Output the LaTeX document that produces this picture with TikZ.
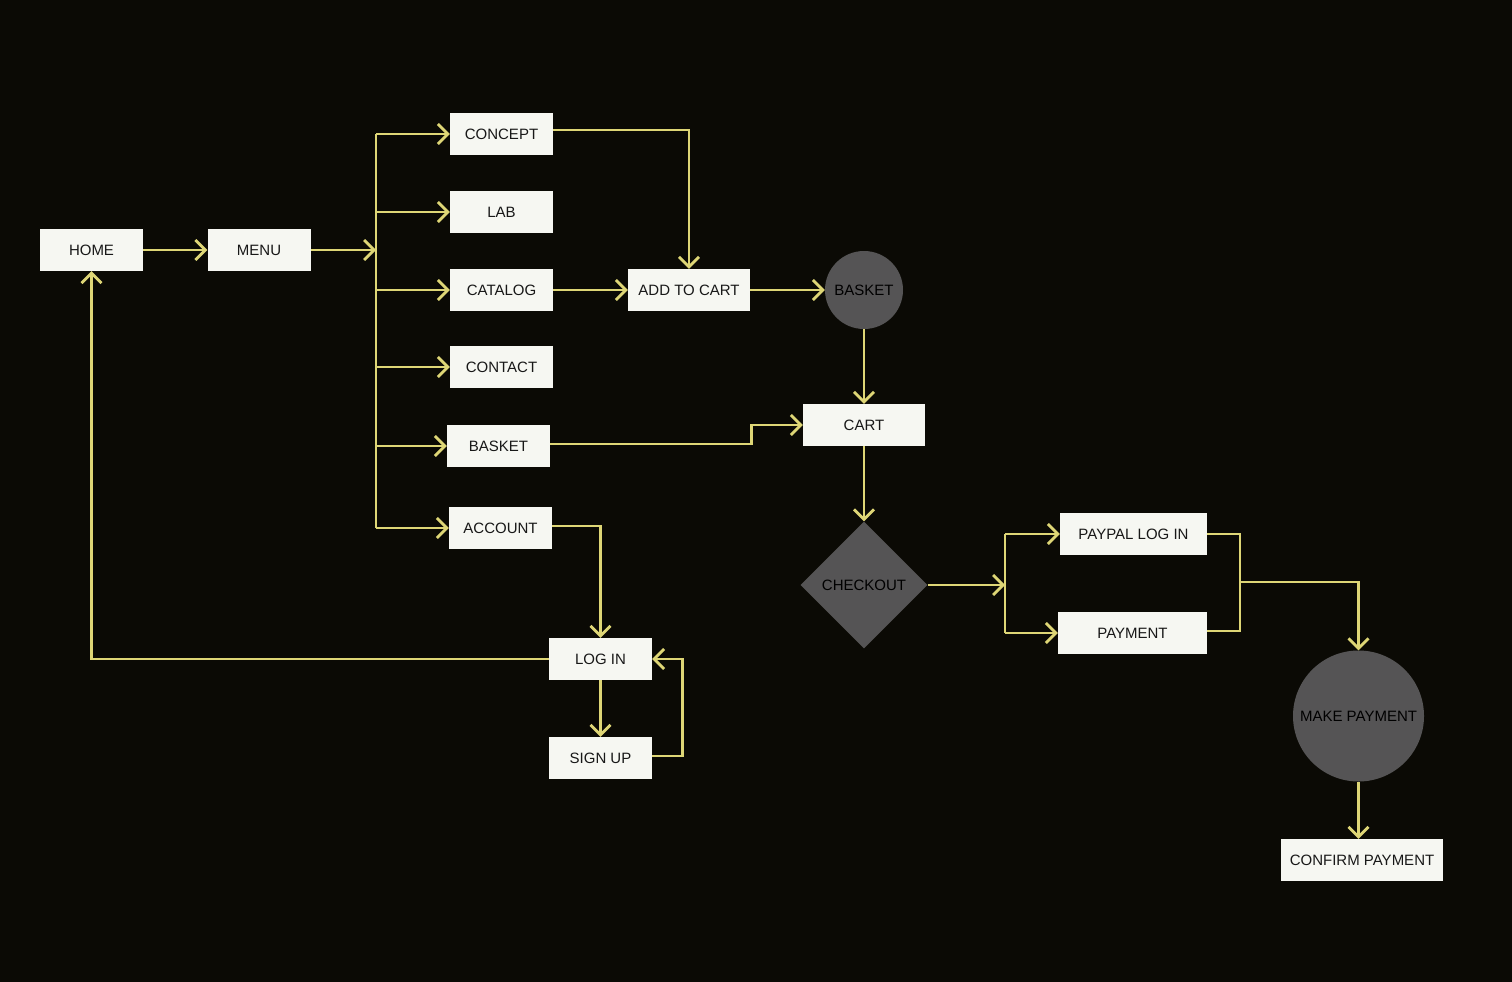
\documentclass[tikz,border=0pt]{standalone}
\usepackage{fontspec}
\setmainfont{Liberation Sans}
\usetikzlibrary{shapes.geometric}
\usetikzlibrary{arrows.meta}

\definecolor{bgdark}{RGB}{11,10,5}
\definecolor{linkyellow}{RGB}{222,214,118}
\definecolor{boxwhite}{RGB}{246,247,242}
\definecolor{stepgray}{RGB}{85,84,85}
\definecolor{labeltext}{RGB}{24,24,24}

\begin{document}
\begin{tikzpicture}[x=1pt,y=-1pt]
				\tikzstyle{page}=[draw=none,inner sep=0pt,text=labeltext,font=\fontsize{15}{18}\selectfont]
				\tikzstyle{screen}=[page,rectangle,fill=boxwhite,minimum width=103pt,minimum height=42pt]
				\tikzstyle{hub}=[page,circle,fill=stepgray,text=black]
				\tikzstyle{choice}=[page,diamond,fill=stepgray,text=black,minimum width=127pt,minimum height=127pt]
				\tikzstyle{wire}=[draw=linkyellow,line width=2.8pt]
				\tikzstyle{link}=[wire,-{Straight Barb[length=10pt,width=20pt]}]

				% background and page size
				\fill[bgdark] (0,0) rectangle (1512,982);

				% main menu column
				\node (home) [screen] at (91.5,250) {HOME};
				\node (menu) [screen] at (259,250) {MENU};
				\node (concept) [screen] at (501.5,134) {CONCEPT};
				\node (lab) [screen] at (501.5,212) {LAB};
				\node (catalog) [screen] at (501.5,290) {CATALOG};
				\node (contact) [screen] at (501.5,367) {CONTACT};
				\node (basketpage) [screen] at (498.5,446) {BASKET};
				\node (account) [screen] at (500.5,528) {ACCOUNT};

				% shop flow
				\node (addcart) [screen, minimum width=122pt] at (689,290) {ADD TO CART};
				\node (basket) [hub, minimum size=78pt] at (864,290) {BASKET};
				\node (cart) [screen, minimum width=122pt] at (864,425) {CART};
				\node (checkout) [choice] at (864,585) {CHECKOUT};
				\node (paypal) [screen, minimum width=147pt] at (1133.5,534) {PAYPAL LOG IN};
				\node (payment) [screen, minimum width=149pt] at (1132.5,633) {PAYMENT};
				\node (makepay) [hub, minimum size=131pt] at (1358.5,716) {MAKE PAYMENT};
				\node (confirm) [screen, minimum width=162pt] at (1362,860) {CONFIRM PAYMENT};

				% account flow
				\node (login) [screen] at (600.5,659) {LOG IN};
				\node (signup) [screen] at (600.5,758) {SIGN UP};

				\coordinate (bus) at (376,250);
				\coordinate (paybus) at (1005,585);
				\coordinate (join) at (1240,582);

				\draw[link] (home) -- (menu);
				\draw[link] (menu) -- (bus);
				\draw[wire] (bus |- concept) -- (bus |- account);
				\foreach \target in {concept,lab,catalog,contact,basketpage,account}
					\draw[link] (bus |- \target) -- (\target);

				\draw[link] ([yshift=4pt]concept.east) -| (addcart.north);
				\draw[link] (catalog) -- (addcart);
				\draw[link] (addcart) -- (basket);
				\draw[link] (basket) -- (cart);
				\draw[link] ([yshift=2pt]basketpage.east) -- ++(201,0) |- (cart.west);
				\draw[link] (cart) -- (checkout);

				\draw[link] (checkout) -- (paybus);
				\draw[wire] (paybus |- paypal) -- (paybus |- payment);
				\draw[link] (paybus |- paypal) -- (paypal);
				\draw[link] (paybus |- payment) -- (payment);
				\draw[wire] (paypal.east) -| (join) |- ([yshift=2pt]payment.east);
				\draw[link] (join) -| (makepay.north);
				\draw[link] (makepay.south) -- (makepay.south |- confirm.north);

				\draw[link] ([yshift=2pt]account.east) -| (login.north);
				\draw[link] (login) -- (signup);
				\draw[link] ([yshift=2pt]signup.east) -- ++(30,0) |- (login.east);
				\draw[link] (login.west) -| (home.south);
			\end{tikzpicture}
\end{document}
